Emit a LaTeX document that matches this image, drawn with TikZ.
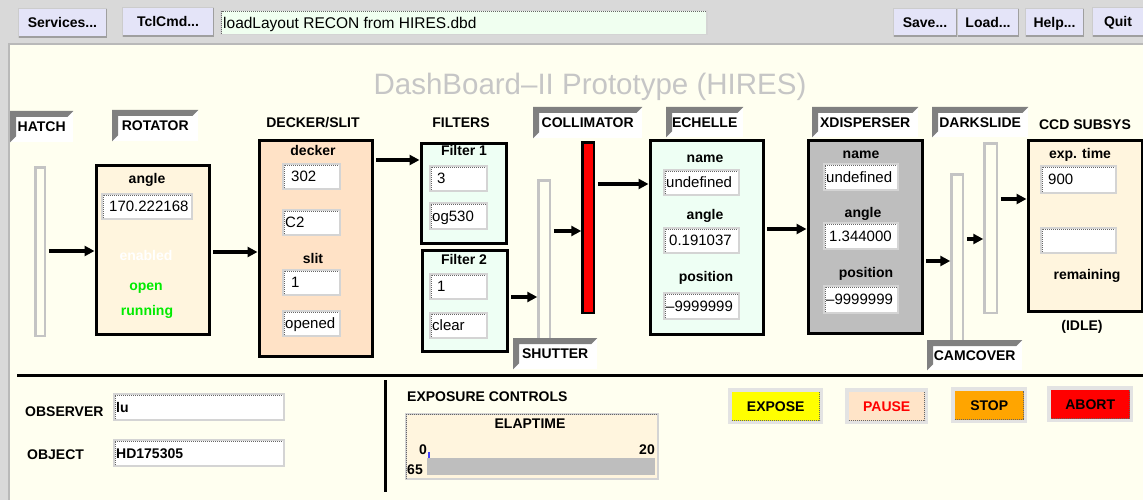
\documentclass[tikz,border=0pt]{standalone}
\usepackage{fontspec}
\setmainfont{Liberation Sans}
\usetikzlibrary{arrows.meta,calc}
\definecolor{ivory}{RGB}{255,255,240}
\definecolor{barbg}{RGB}{217,217,217}
\definecolor{btnfill}{RGB}{228,228,248}
\definecolor{cmdfill}{RGB}{240,255,240}
\definecolor{silk}{RGB}{255,245,222}
\definecolor{peach}{RGB}{255,226,198}
\definecolor{mint}{RGB}{238,255,244}
\definecolor{xdgray}{RGB}{190,190,190}
\definecolor{tabgray}{RGB}{128,128,128}
\definecolor{barline}{RGB}{196,196,196}
\definecolor{titlegray}{RGB}{198,198,198}
\definecolor{entline}{RGB}{212,212,212}
\definecolor{okgreen}{RGB}{0,235,0}
\definecolor{pausefill}{RGB}{255,228,200}
\definecolor{stopfill}{RGB}{255,165,0}
\definecolor{abortfill}{RGB}{255,0,0}
\definecolor{exposefill}{RGB}{255,255,0}
\newcommand\bent{\fontsize{14}{15}\selectfont\bfseries}
\newcommand\entr[6]{%
  \node[entbox, minimum width={#4-#2}, minimum height={#5-#3}] (#1) at (#2,#3) {};
  \draw[entdot] ([shift={(2pt,2pt)}]#1.south west) |- ([shift={(-2pt,-2pt)}]#1.north east);
  \node[enttext] (#1t) at ([xshift=3pt]#1.west) {#6};}
\newcommand\tabx[6]{%
  \node[tabbox, minimum width={#4-#2}, minimum height={#5-#3}] (#1) at (#2,#3) {};
  \fill[tabgray] (#1.north west) -- (#1.north east) -- ([shift={(-6pt,-6pt)}]#1.north east) -- ([shift={(6pt,-6pt)}]#1.north west) -- ([shift={(6pt,6pt)}]#1.south west) -- (#1.south west) -- cycle;
  \node[lbl] (#1t) at (#1.center) {#6};}
\newcommand\tbtn[6]{%
  \node[tbox, minimum width={#4-#2}, minimum height={#5-#3}] (#1) at (#2,#3) {};
  \draw[gray!75, line width=1.5pt] ([shift={(0.75pt,0.75pt)}]#1.south west) -- ([shift={(-0.75pt,0.75pt)}]#1.south east) -- ([shift={(-0.75pt,-0.75pt)}]#1.north east);
  \node[lbl] (#1t) at (#1.center) {#6};}
\newcommand\bbtn[8]{%
  \node[bframe, minimum width={#4-#2}, minimum height={#5-#3}] (#1) at (#2,#3) {};
  \node[binner, fill=#6, minimum width={#4-#2-7}, minimum height={#5-#3-7}] (#1i) at (#1.center) {};
  \draw[entdot] (#1i.south west) -- (#1i.south east) -- (#1i.north east);
  \node[lbl, text=#7] (#1t) at (#1.center) {#8};}
\newcommand\boxx[6]{%
  \node[bx, fill=#6, minimum width={#4-#2-3}, minimum height={#5-#3-3}] (#1) at (#2+1.5,#3+1.5) {};}
\newcommand\barx[7]{%
  \node[barn, fill=#6, draw=#7, minimum width={#4-#2-2.5}, minimum height={#5-#3-2.5}] (#1) at (#2+1.25,#3+1.25) {};}
\begin{document}
\begin{tikzpicture}[x=1pt,y=-1pt,
  lbl/.style={font=\fontsize{14}{15}\selectfont\bfseries, inner sep=0pt, text height=10pt, text depth=0pt},
  entbox/.style={anchor=north west, fill=white, draw=entline, line width=2pt, inner sep=0pt},
  entdot/.style={line width=1pt, dash pattern=on 1pt off 1pt, draw=black!60},
  enttext/.style={anchor=west, inner sep=0pt, font=\fontsize{15}{16}\selectfont, text height=10.7pt, text depth=0pt},
  tabbox/.style={anchor=north west, fill=white, inner sep=0pt},
  tbox/.style={anchor=north west, fill=btnfill, draw=gray!40, line width=1pt, inner sep=0pt},
  bframe/.style={anchor=north west, fill=gray!22, inner sep=0pt},
  binner/.style={inner sep=0pt},
  bx/.style={anchor=north west, draw=black, line width=3pt, inner sep=0pt},
  barn/.style={anchor=north west, line width=2.5pt, inner sep=0pt},
  arr/.style={line width=3.5pt, -{Triangle[length=10pt,width=10pt]}, shorten <=2.5pt}]
\useasboundingbox (0,0) rectangle (1143,500);
% background
\fill[ivory] (0,0) rectangle (1143,500);
\fill[barbg] (0,0) rectangle (1143,43);
\fill[barbg] (0,43) rectangle (8,500);
\draw[gray!55, line width=2pt] (9,500) -- (9,44) -- (1143,44);
% top bar
\tbtn{svc}{18}{8}{106}{37}{Services...}
\tbtn{tcl}{122}{7}{213}{36}{TclCmd...}
\node[anchor=north west, fill=cmdfill, draw=entline, line width=1.5pt, inner sep=0pt, minimum width=486, minimum height=24] (cmd) at (220,10) {};
\draw[entdot] ([shift={(1.5pt,1.5pt)}]cmd.south west) |- ([shift={(-1.5pt,-1.5pt)}]cmd.north east);
\node[enttext, font=\fontsize{15.5}{16}\selectfont] (cmdt) at ([xshift=3pt]cmd.west) {loadLayout RECON from HIRES.dbd};
\tbtn{save}{893}{8}{956}{36}{Save...}
\tbtn{load}{957}{8}{1018}{36}{Load...}
\tbtn{help}{1025}{8}{1083}{36}{Help...}
\tbtn{quit}{1092}{7}{1150}{36}{\hspace{-7pt}Quit}
% title
\node[font=\fontsize{29.5}{32}\selectfont, text=titlegray, anchor=base, inner sep=0pt] (title) at (590,95) {DashBoard–II Prototype (HIRES)};
% header labels
\node[lbl] (hDeck) at (313,123) {DECKER/SLIT};
\node[lbl] (hFilt) at (461,123) {FILTERS};
\node[lbl] (hCcd) at (1085,125) {CCD SUBSYS};
% bars
\barx{hatch}{33}{165}{45}{336}{ivory}{barline}
\barx{shut}{536}{178}{550}{342}{ivory}{barline}
\barx{cam}{949}{172}{963}{343}{ivory}{barline}
\barx{dark}{982}{141}{997}{313}{ivory}{barline}
\node[anchor=north west, fill=red, draw=black, line width=2.5pt, inner sep=0pt, minimum width=11.5, minimum height=170.5] (coll) at (581.25,141.25) {};
% tabs
\tabx{tHatch}{10}{111}{73}{142}{HATCH}
\tabx{tRot}{112}{110}{198}{141}{ROTATOR}
\tabx{tColl}{533}{107}{642}{138}{COLLIMATOR}
\tabx{tEch}{666}{107}{743}{137}{ECHELLE}
\tabx{tXd}{812}{107}{918}{137}{XDISPERSER}
\tabx{tDark}{932}{107}{1028}{137}{DARKSLIDE}
\tabx{tShut}{513}{338}{597}{369}{SHUTTER}
\tabx{tCam}{927}{340}{1022}{370}{CAMCOVER}
% rotator
\boxx{rot}{93}{162}{209}{334}{silk}
\node[lbl] (rAng) at (147,178) {angle};
\entr{rE1}{101}{193}{191}{218}{\hspace{5pt}170.222168}
\node[lbl, text=white] (rEn) at (146,255) {enabled};
\node[lbl, text=okgreen] (rOpen) at (146,285) {open};
\node[lbl, text=okgreen] (rRun) at (147,310) {running};
% decker
\boxx{deck}{256}{138}{372}{356}{peach}
\node[lbl] (dDeck) at (313,151) {decker};
\entr{dE1}{282}{163}{339}{188}{\hspace{6pt}302}
\entr{dE2}{282}{209}{339}{234}{C2}
\node[lbl] (dSlit) at (313,258) {slit};
\entr{dE3}{282}{269}{339}{294}{\hspace{6pt}1}
\entr{dE4}{282}{310}{339}{335}{opened}
% filters
\boxx{f1}{418}{141}{506}{243}{mint}
\node[lbl] (f1l) at (464,151) {Filter 1};
\entr{f1E1}{429}{165}{486}{190}{\hspace{5pt}3}
\entr{f1E2}{429}{202}{486}{228}{og530}
\boxx{f2}{419}{247}{507}{351}{mint}
\node[lbl] (f2l) at (464,259) {Filter 2};
\entr{f2E1}{429}{273}{486}{298}{\hspace{5pt}1}
\entr{f2E2}{429}{312}{486}{337}{clear}
% echelle
\boxx{ech}{647}{138}{763}{334}{mint}
\node[lbl] (eName) at (705,157) {name};
\entr{eE1}{663}{169}{738}{194}{undefined}
\node[lbl] (eAng) at (705,214) {angle};
\entr{eE2}{663}{227}{738}{252}{\hspace{3pt}0.191037}
\node[lbl] (ePos) at (706,276) {position};
\entr{eE3}{663}{292}{738}{318}{–9999999}
% xdisperser
\boxx{xd}{805}{138}{922}{333}{xdgray}
\node[lbl] (xName) at (861,153) {name};
\entr{xE1}{823}{163}{897}{189}{undefined}
\node[lbl] (xAng) at (863,212) {angle};
\entr{xE2}{823}{222}{897}{248}{\hspace{3pt}1.344000}
\node[lbl] (xPos) at (866,272) {position};
\entr{xE3}{823}{285}{897}{312}{–9999999}
% ccd
\boxx{ccd}{1025}{138}{1142}{311}{silk}
\node[lbl] (cExp) at (1080,154) {exp. time};
\entr{cE1}{1040}{165}{1115}{192}{\hspace{5pt}900}
\entr{cE2}{1040}{227}{1115}{252}{}
\node[lbl] (cRem) at (1087,274) {remaining};
\node[lbl] (cIdle) at (1082,325) {(IDLE)};
% arrows
\coordinate (yA) at (0,251);
\coordinate (yB) at (0,252);
\coordinate (yC) at (0,160);
\coordinate (yD) at (0,297);
\coordinate (yE) at (0,231);
\coordinate (yF) at (0,184);
\coordinate (yG) at (0,229);
\coordinate (yH) at (0,261);
\coordinate (yI) at (0,239);
\coordinate (yJ) at (0,199);
\draw[arr] (hatch.east |- yA) -- (rot.west |- yA);
\draw[arr] (rot.east |- yB) -- (deck.west |- yB);
\draw[arr] (deck.east |- yC) -- (f1.west |- yC);
\draw[arr] (f2.east |- yD) -- (shut.west |- yD);
\draw[arr] (shut.east |- yE) -- (coll.west |- yE);
\draw[arr] (coll.east |- yF) -- (ech.west |- yF);
\draw[arr] (ech.east |- yG) -- (xd.west |- yG);
\draw[arr] (xd.east |- yH) -- (cam.west |- yH);
\draw[arr] (cam.east |- yI) -- (dark.west |- yI);
\draw[arr] (dark.east |- yJ) -- (ccd.west |- yJ);
% bottom section
\draw[line width=3pt] (17,375) -- (1143,375);
\draw[line width=3pt] (385,380) -- (385,492);
\node[lbl, anchor=west] (lObs) at (25,411) {OBSERVER};
\node[lbl, anchor=west] (lObj) at (27,454) {OBJECT};
\entr{eObs}{113}{393}{283}{419}{\bent lu}
\entr{eObj}{113}{439}{283}{465}{\bent HD175305}
\node[lbl, anchor=west] (lExp) at (407,396) {EXPOSURE CONTROLS};
\node[anchor=north west, fill=silk, draw=entline, line width=1.5pt, inner sep=0pt, minimum width=252, minimum height=65] (elap) at (405,413) {};
\draw[entdot] ([shift={(1pt,1pt)}]elap.south west) |- ([shift={(-1pt,-1pt)}]elap.north east);
\node[lbl] (lElap) at (530,423) {ELAPTIME};
\node[lbl] (l0) at (423,449) {0};
\node[lbl, anchor=east] (l20) at (655,449) {20};
\node[anchor=north west, fill=xdgray, inner sep=0pt, minimum width=228, minimum height=17] (elbar) at (427,458) {};
\node[lbl] (l65) at (415,469) {65};
\draw[blue!75, line width=1.2pt] ([xshift=2pt]elbar.north west) -- ([xshift=2pt,yshift=6pt]elbar.north west);
\bbtn{bExp}{728}{388}{823}{424}{exposefill}{black}{EXPOSE}
\bbtn{bPause}{845}{388}{928}{424}{pausefill}{red}{PAUSE}
\bbtn{bStop}{951}{387}{1027}{423}{stopfill}{black}{STOP}
\bbtn{bAbort}{1047}{386}{1133}{422}{abortfill}{black}{ABORT}
\end{tikzpicture}
\end{document}
